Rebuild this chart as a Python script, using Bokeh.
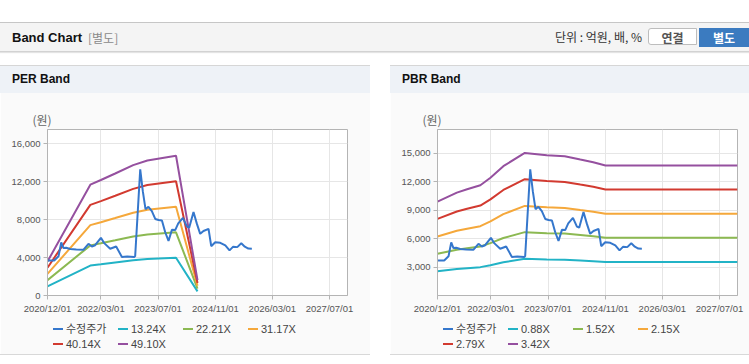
import pandas as pd
from bokeh.plotting import figure
from bokeh.layouts import row
from bokeh.models import (Range1d, FixedTicker, DatetimeTickFormatter, NumeralTickFormatter, Div)
from bokeh.embed import file_html
from bokeh.resources import INLINE

# ---------------- data ----------------
price_dates = ["2020-12-01", "2021-01-27", "2021-03-05", "2021-03-28", "2021-04-16", "2021-05-09",
               "2021-06-12", "2021-08-03", "2021-10-04", "2021-11-15", "2021-12-14", "2022-01-11",
               "2022-03-01", "2022-03-29", "2022-05-19", "2022-07-09", "2022-08-27", "2022-10-11",
               "2022-12-10", "2022-12-18", "2023-01-30", "2023-02-21", "2023-03-16", "2023-04-10",
               "2023-05-09", "2023-06-07", "2023-07-05", "2023-08-03", "2023-08-31", "2023-09-28",
               "2023-10-27", "2023-11-24", "2023-12-20", "2024-01-29", "2024-03-03", "2024-03-22",
               "2024-04-28", "2024-05-27", "2024-06-24", "2024-07-22", "2024-09-03", "2024-09-26",
               "2024-10-30", "2024-12-12", "2025-01-24", "2025-03-01", "2025-04-01", "2025-05-06",
               "2025-06-09", "2025-07-09", "2025-08-08", "2025-09-07"]
price_values = [3700, 3700, 4130, 5600, 5000, 5040, 4900, 4850, 4830, 5450,
                5170, 5300, 6080, 5520, 4930, 5170, 4060, 4100, 4060, 4150,
                13300, 11000, 9100, 9350, 8900, 8070, 7960, 7900, 6670, 5750,
                6920, 6900, 7600, 8180, 7260, 7150, 8800, 7550, 6500, 6800,
                7020, 5200, 5620, 5550, 5280, 4760, 5150, 5100, 5500, 5150,
                4950, 4930]

per_dates = ["2020-12-01", "2021-12-01", "2022-03-01", "2022-07-01", "2022-12-01",
             "2023-04-01", "2023-12-01", "2024-06-01"]
per_labels = ["13.24X", "22.21X", "31.17X", "40.14X", "49.10X"]
per_13_24 = [967, 3151, 3284, 3469, 3707, 3840, 3972, 437]
per_22_21 = [1621, 5286, 5508, 5819, 6219, 6441, 6663, 733]
per_31_17 = [2275, 7418, 7730, 8167, 8728, 9039, 9351, 1029]
per_40_14 = [2930, 9553, 9955, 10517, 11239, 11641, 12042, 1325]
per_49_10 = [3584, 11686, 12177, 12864, 13748, 14239, 14730, 1620]

pbr_dates = ["2020-12-01", "2021-05-15", "2021-08-10", "2021-12-01", "2022-02-25", "2022-06-15",
             "2022-12-15", "2023-06-20", "2023-11-20", "2024-04-01", "2024-07-20", "2024-11-01",
             "2027-12-01"]
pbr_labels = ["0.88X", "1.52X", "2.15X", "2.79X", "3.42X"]
pbr_0_88 = [2548, 2791, 2882, 2990, 3194, 3509, 3867, 3805, 3778, 3689, 3617, 3528, 3528]
pbr_1_52 = [4400, 4821, 4978, 5165, 5518, 6060, 6679, 6572, 6525, 6372, 6247, 6094, 6094]
pbr_2_15 = [6224, 6820, 7041, 7306, 7805, 8572, 9447, 9297, 9230, 9013, 8837, 8619, 8619]
pbr_2_79 = [8077, 8850, 9137, 9480, 10128, 11124, 12259, 12064, 11977, 11696, 11467, 11185, 11185]
pbr_3_42 = [9901, 10848, 11201, 11621, 12415, 13636, 15027, 14788, 14682, 14337, 14056, 13711, 13711]

x_tick_dates = ["2020-12-01", "2022-03-01", "2023-07-01", "2024-11-01", "2026-03-01", "2027-07-01"]
x_start, x_end = "2020-12-01", "2027-12-01"
per_yticks = [0, 4000, 8000, 12000, 16000]
pbr_yticks = [3000, 6000, 9000, 12000, 15000]
y_max = 17500

price_label = "수정주가"
band_colors = ["#22b3c6", "#8cb952", "#f5a83b", "#d23a30", "#95509f"]
price_color = "#3577cc"

LATIN = "Liberation Sans"
KR = "Noto Sans CJK KR"


def ms(s):
    return pd.Timestamp(s).timestamp() * 1000.0


# ---------------- overlay: page header, panel headers, legends, panel bottoms ----------------
def span(left, top, size, text, color, bold=False, font="'Noto Sans CJK KR'"):
    w = "bold" if bold else "normal"
    return (f'<span style="position:absolute;left:{left}px;top:{top}px;line-height:16px;'
            f'font-family:{font};font-weight:{w};font-size:{size}px;color:{color};'
            f'white-space:nowrap;">{text}</span>')


def legend_html(x0, labels):
    names = [price_label] + list(labels)
    colors = [price_color] + band_colors
    out = []
    for i, (n, c) in enumerate(zip(names, colors)):
        x = x0 + 65 * (i % 4)
        cy = 329 + 15 * (i // 4)
        out.append(f'<div style="position:absolute;left:{x}px;top:{cy - 1}px;width:10px;height:2px;'
                   f'background:{c};"></div>')
        out.append(span(x + 13, cy - 8, 11, n, "#444",
                        font="'Liberation Sans','Noto Sans CJK KR'"))
    return "".join(out)


ov = ['<div style="position:relative;width:749px;height:364px;">']
ov.append('<div style="position:absolute;left:0;top:0;width:749px;height:65px;background:#fff;"></div>')
ov.append('<div style="position:absolute;left:0;top:22px;width:749px;height:30px;background:#f4f4f4;'
          'border-top:1px solid #c6c6c6;border-bottom:1px solid #d2d2d2;box-shadow:0 1px 1px #e4e4e4;"></div>')
ov.append(span(12, 30, 13, "Band Chart", "#111", True, "'Liberation Sans'"))
ov.append(span(88, 30, 12, "[별도]", "#8a8a8a"))
ov.append('<span style="position:absolute;right:107px;top:29px;line-height:16px;'
          'font-family:\'Noto Sans CJK KR\';font-size:12px;color:#333;white-space:nowrap;">'
          '단위 : 억원, 배, %</span>')
ov.append('<div style="position:absolute;left:648px;top:28px;width:49px;height:17px;background:#fff;'
          'border:1px solid #bdbdbd;border-radius:3px 0 0 3px;text-align:center;line-height:17px;'
          'font-family:\'Noto Sans CJK KR\';font-weight:bold;font-size:12px;color:#555;">연결</div>')
ov.append('<div style="position:absolute;left:699px;top:28px;width:50px;height:19px;background:#3b7bc0;'
          'text-align:center;line-height:19px;font-family:\'Noto Sans CJK KR\';font-weight:bold;'
          'font-size:12px;color:#fff;">별도</div>')
for x0, w, title in ((0, 370, "PER Band"), (390, 359, "PBR Band")):
    ov.append(f'<div style="position:absolute;left:{x0}px;top:65px;width:{w}px;height:28px;'
              f'background:#eef2f7;border-top:1px solid #d6d6d6;box-sizing:border-box;"></div>')
    ov.append(span(x0 + 12, 71, 12, title, "#111", True, "'Liberation Sans'"))
    ov.append(f'<div style="position:absolute;left:{x0}px;top:354px;width:{w}px;height:1px;'
              f'background:#d8d8d8;"></div>')
ov.append(legend_html(53, per_labels))
ov.append(legend_html(443, pbr_labels))
ov.append('</div>')
overlay = Div(text="".join(ov), width=749, height=364, margin=0,
              styles={"position": "absolute", "left": "0px", "top": "0px", "z-index": "10",
                      "pointer-events": "none"})


# ---------------- charts ----------------
def chart(width, b_left, b_right, yticks, band_dates, bands):
    p = figure(width=width, height=355, output_backend="svg", toolbar_location=None,
               x_axis_type="datetime",
               x_range=Range1d(ms(x_start), ms(x_end)), y_range=Range1d(0, y_max),
               min_border_left=b_left, min_border_right=b_right,
               min_border_top=129, min_border_bottom=60,
               background_fill_color="#ffffff", border_fill_color="#fafafa",
               outline_line_color="#b4b4b4", title="(원)", margin=0)
    p.title.align = "left"
    p.title.offset = -15
    p.title.standoff = 3
    p.title.text_font = KR
    p.title.text_font_size = "12px"
    p.title.text_font_style = "normal"
    p.title.text_color = "#666666"

    p.xaxis.ticker = FixedTicker(ticks=[ms(d) for d in x_tick_dates])
    fmt = "%Y/%m/%d"
    p.xaxis.formatter = DatetimeTickFormatter(milliseconds=fmt, seconds=fmt, minsec=fmt, minutes=fmt,
                                              hourmin=fmt, hours=fmt, days=fmt, months=fmt, years=fmt)
    p.yaxis.ticker = FixedTicker(ticks=yticks)
    p.yaxis.formatter = NumeralTickFormatter(format="0,0")
    for ax in (p.xaxis[0], p.yaxis[0]):
        ax.axis_line_color = "#b4b4b4"
        ax.major_tick_line_color = "#b4b4b4"
        ax.major_tick_out = 4
        ax.major_tick_in = 0
        ax.minor_tick_line_color = None
        ax.major_label_text_font = LATIN
        ax.major_label_text_font_size = "9.5px"
        ax.major_label_text_color = "#555555"
        ax.major_label_standoff = 3
    p.xgrid.ticker = p.xaxis[0].ticker
    p.ygrid.ticker = p.yaxis[0].ticker
    p.xgrid.grid_line_color = "#e6e6e6"
    p.ygrid.grid_line_color = "#e6e6e6"

    bd = pd.to_datetime(band_dates)
    for vals, c in zip(bands, band_colors):
        p.line(bd, vals, line_color=c, line_width=2)
    p.line(pd.to_datetime(price_dates), price_values, line_color=price_color, line_width=2)
    return p


per = chart(370, 47, 23, per_yticks, per_dates,
            [per_13_24, per_22_21, per_31_17, per_40_14, per_49_10])
pbr = chart(359, 47, 12, pbr_yticks, pbr_dates,
            [pbr_0_88, pbr_1_52, pbr_2_15, pbr_2_79, pbr_3_42])

page = row(per, pbr, overlay, spacing=20)

open("out.html", "w").write(file_html(page, INLINE))
